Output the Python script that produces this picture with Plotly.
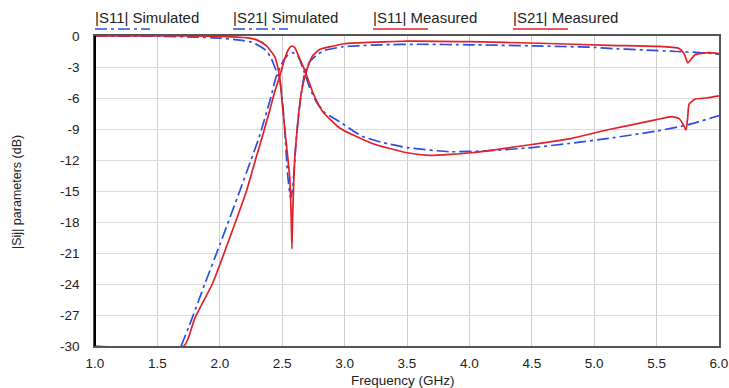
import plotly.graph_objects as go

# ---- data ----
s11_sim_f = [1.0, 1.5, 1.8, 2.0, 2.16, 2.24, 2.30, 2.37, 2.41, 2.44, 2.48, 2.50, 2.52, 2.545, 2.568,
             2.585, 2.61, 2.635, 2.66, 2.68, 2.72, 2.78, 2.84, 2.98, 3.1, 3.3, 3.6, 4.0, 4.5, 5.0,
             5.12, 5.4, 5.66, 5.84, 6.0]
s11_sim_db = [0, -0.02, -0.1, -0.2, -0.4, -0.55, -0.85, -1.4, -2.1, -3.0, -4.2, -6.0, -9.0, -13.6, -15.7,
              -14.6, -10.4, -7.2, -5.0, -3.6, -2.5, -1.8, -1.4, -1.05, -0.95, -0.85, -0.8, -0.85, -0.95, -1.1,
              -1.2, -1.35, -1.5, -1.6, -1.75]

s21_sim_f = [1.69, 1.75, 1.88, 2.0, 2.16, 2.25, 2.31, 2.36, 2.41, 2.45, 2.50, 2.54, 2.58, 2.62, 2.68,
             2.72, 2.78, 2.84, 2.96, 3.14, 3.3, 3.5, 3.84, 4.16, 4.5, 4.8, 5.12, 5.5, 5.75, 6.0]
s21_sim_db = [-30, -28.2, -24, -20.2, -15, -12, -10.0, -8.0, -5.9, -4.0, -2.6, -1.9, -1.6, -1.8, -3.6,
              -5.0, -6.5, -7.4, -8.3, -9.7, -10.3, -10.8, -11.2, -11.1, -10.8, -10.4, -9.9, -9.2, -8.6, -7.7]

s11_meas_f = [1.0, 1.8, 2.0, 2.24, 2.30, 2.37, 2.44, 2.48, 2.50, 2.53, 2.56, 2.572, 2.578, 2.585, 2.60,
              2.62, 2.635, 2.66, 2.69, 2.72, 2.745, 2.80, 2.88, 3.0, 3.5, 4.0, 4.56, 5.12, 5.5, 5.68,
              5.72, 5.75, 5.78, 5.81, 5.92, 6.0]
s11_meas_db = [0, 0, -0.05, -0.2, -0.4, -0.9, -2.0, -4.0, -6.5, -10.1, -13.6, -17.5, -20.6, -16.8, -12.0,
               -9.0, -7.2, -5.0, -3.6, -2.5, -1.9, -1.3, -1.05, -0.75, -0.5, -0.55, -0.7, -0.9, -1.0, -1.2,
               -1.7, -2.6, -2.2, -1.8, -1.6, -1.7]

s21_meas_f = [1.0, 1.712, 1.80, 1.94, 2.05, 2.216, 2.29, 2.344, 2.40, 2.44, 2.48, 2.52, 2.55, 2.576, 2.60,
              2.64, 2.69, 2.75, 2.824, 2.96, 3.22, 3.5, 3.68, 4.02, 4.5, 4.82, 5.1, 5.5, 5.62, 5.68,
              5.71, 5.735, 5.75, 5.76, 5.81, 5.9, 6.0]
s21_meas_db = [-30, -30, -27.3, -24, -20.5, -14.9, -11.8, -9.6, -7.2, -5.4, -3.9, -2.2, -1.3, -0.97, -1.1,
               -2.2, -3.6, -5.6, -7.3, -8.9, -10.4, -11.3, -11.55, -11.3, -10.5, -9.9, -9.1, -8.1, -7.8, -8.0,
               -8.5, -9.1, -7.8, -6.6, -6.1, -6.0, -5.8]

series_names = ["|S11| Simulated", "|S21| Simulated", "|S11| Measured", "|S21| Measured"]
x_ticks = [1.0, 1.5, 2.0, 2.5, 3.0, 3.5, 4.0, 4.5, 5.0, 5.5, 6.0]
y_ticks = [0, -3, -6, -9, -12, -15, -18, -21, -24, -27, -30]
x_title = "Frequency (GHz)"
y_title = "|Sij| parameters (dB)"

BLUE = "#2b4ee0"
RED = "#e3202a"
SIM_DASH = "12px,4px,3px,4px"
FONT = "Liberation Sans, Arial, sans-serif"

fig = go.Figure()
data = [(s11_sim_f, s11_sim_db, BLUE, SIM_DASH),
        (s21_sim_f, s21_sim_db, BLUE, SIM_DASH),
        (s11_meas_f, s11_meas_db, RED, "solid"),
        (s21_meas_f, s21_meas_db, RED, "solid")]
for (fx, fy, col, dash), name in zip(data, series_names):
    fig.add_trace(go.Scatter(x=fx, y=fy, mode="lines", name=name, showlegend=False,
                             line=dict(color=col, width=1.7, dash=dash,
                                       shape="spline", smoothing=0.5)))

W, H = 729, 388
ml, mr, mt, mb = 95, 10, 36, 42
pw, ph = W - ml - mr, H - mt - mb

def px_x(p):
    return (p - ml) / pw

def px_y(p):
    return 1 - (p - mt) / ph

# custom legend: text with the line sample underneath
legend_x = [95, 233, 373, 513]
shapes = []
annotations = []
for (fx, fy, col, dash), name, lx in zip(data, series_names, legend_x):
    annotations.append(dict(x=px_x(lx - 2), y=px_y(18), xref="paper", yref="paper",
                            text=name, showarrow=False, xanchor="left", yanchor="middle",
                            font=dict(family=FONT, size=15, color="#222")))
    shapes.append(dict(type="line", xref="paper", yref="paper",
                       x0=px_x(lx), x1=px_x(lx + 55),
                       y0=px_y(29), y1=px_y(29),
                       line=dict(color=col, width=1.7, dash=dash)))
# axis titles
annotations.append(dict(x=px_x(403), y=px_y(380), xref="paper", yref="paper", text=x_title,
                        showarrow=False, xanchor="center", yanchor="middle",
                        font=dict(family=FONT, size=13.5, color="#222")))
annotations.append(dict(x=px_x(17), y=px_y(192), xref="paper", yref="paper", text=y_title,
                        showarrow=False, xanchor="center", yanchor="middle", textangle=-90,
                        font=dict(family=FONT, size=12.5, color="#222")))
# left axis line (black, heavier)
shapes.append(dict(type="line", xref="paper", yref="paper", x0=0, x1=0, y0=0, y1=1,
                   line=dict(color="#000", width=2)))

fig.update_layout(
    width=W, height=H,
    margin=dict(l=ml, r=mr, t=mt, b=mb, autoexpand=False),
    paper_bgcolor="white", plot_bgcolor="white",
    font=dict(family=FONT, size=13.5, color="#222"),
    shapes=shapes, annotations=annotations,
    xaxis=dict(range=[1.0, 6.0], tickvals=x_ticks, ticktext=[f"{v:.1f}" for v in x_ticks],
               showgrid=True, gridcolor="#cfcfcf", gridwidth=1, zeroline=False,
               showline=True, linecolor="#555", linewidth=1.5, mirror=True,
               ticks="", ticklabelstandoff=4, automargin=False),
    yaxis=dict(range=[-30, 0], tickvals=y_ticks, ticktext=[str(v) for v in y_ticks],
               showgrid=True, gridcolor="#dcdcdc", gridwidth=1, zeroline=False,
               showline=True, linecolor="#555", linewidth=1.5, mirror=True,
               ticks="", ticklabelstandoff=11, automargin=False),
)

fig.write_html("out.html", config={"displayModeBar": False},
               post_script="document.body.style.margin='0';document.body.style.overflow='hidden';")
